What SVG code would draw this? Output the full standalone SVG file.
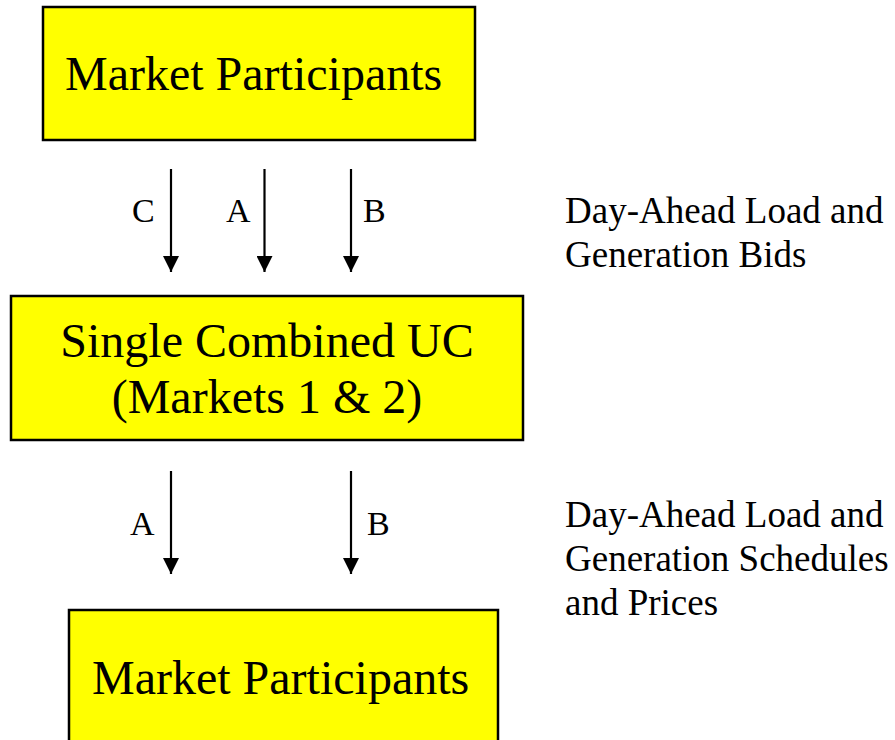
<svg xmlns="http://www.w3.org/2000/svg" width="895" height="740" viewBox="0 0 895 740">
  <style>
    .box { fill: #ffff00; stroke: #000; stroke-width: 2.5; }
    .big { font-family: "Liberation Serif", "Times New Roman", serif; font-size: 48px; fill: #000; }
    .lbl { font-family: "Liberation Serif", "Times New Roman", serif; font-size: 34px; fill: #000; }
    .note { font-family: "Liberation Serif", "Times New Roman", serif; font-size: 37px; fill: #000; }
    .wire { stroke: #000; stroke-width: 2.2; fill: none; marker-end: url(#head); }
  </style>
  <defs>
    <marker id="head" viewBox="0 0 16 16" refX="16" refY="8" markerWidth="16" markerHeight="16" markerUnits="userSpaceOnUse" orient="auto">
      <path d="M0 0 L16 8 L0 16 Z" fill="#000"/>
    </marker>
  </defs>

  <rect width="895" height="740" fill="#fff"/>

  <!-- input source -->
  <g id="participants-top">
    <rect class="box" x="43" y="7" width="432" height="133"/>
    <text class="big" x="65" y="90">Market Participants</text>
  </g>

  <!-- unit commitment engine -->
  <g id="combined-uc">
    <rect class="box" x="11" y="296" width="512" height="144"/>
    <text class="big" x="267" y="357" text-anchor="middle">Single Combined UC</text>
    <text class="big" x="267" y="413" text-anchor="middle">(Markets 1 &amp; 2)</text>
  </g>

  <!-- output recipients -->
  <g id="participants-bottom">
    <rect class="box" x="69" y="610" width="429" height="140"/>
    <text class="big" x="92" y="694">Market Participants</text>
  </g>

  <!-- flows between stages -->
  <g id="connectors">
    <line class="wire" x1="171" y1="169" x2="171" y2="272"/>
    <line class="wire" x1="264.5" y1="169" x2="264.5" y2="272"/>
    <line class="wire" x1="351" y1="169" x2="351" y2="272"/>
    <line class="wire" x1="171" y1="471" x2="171" y2="574"/>
    <line class="wire" x1="351" y1="471" x2="351" y2="574"/>
  </g>

  <!-- flow labels -->
  <g id="flow-labels">
    <text class="lbl" x="132" y="222">C</text>
    <text class="lbl" x="226" y="222">A</text>
    <text class="lbl" x="363" y="222">B</text>
    <text class="lbl" x="130" y="535">A</text>
    <text class="lbl" x="367" y="535">B</text>
  </g>

  <!-- stage descriptions -->
  <g id="notes">
    <text class="note" x="565" y="223">Day-Ahead Load and</text>
    <text class="note" x="565" y="267">Generation Bids</text>
    <text class="note" x="565" y="527">Day-Ahead Load and</text>
    <text class="note" x="565" y="571">Generation Schedules</text>
    <text class="note" x="565" y="615">and Prices</text>
  </g>
</svg>
